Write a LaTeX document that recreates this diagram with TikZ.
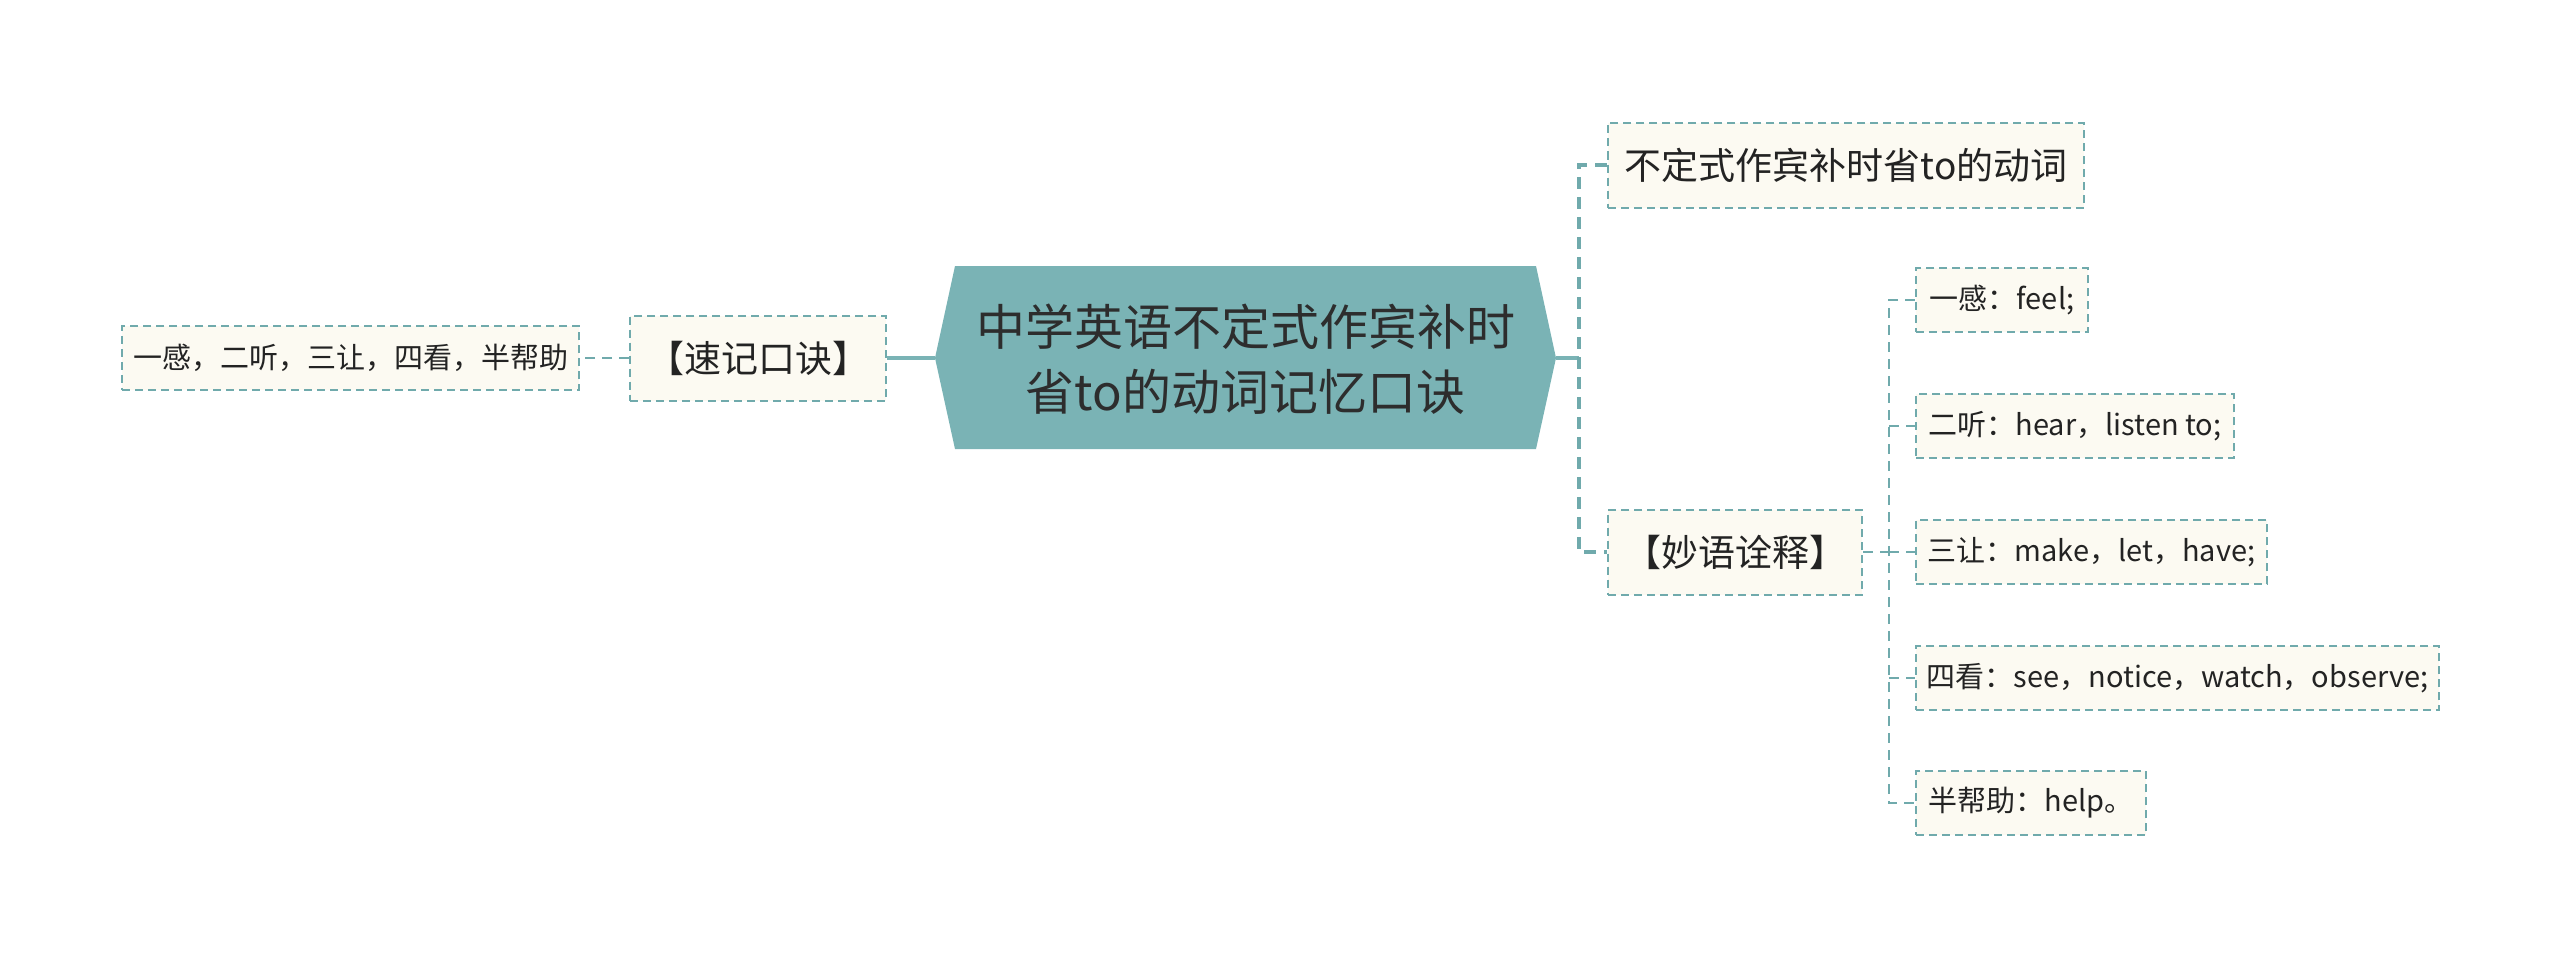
\documentclass[tikz,border=0pt]{standalone}
\usepackage{fontspec}
\setmainfont{Noto Sans CJK SC}
\definecolor{teal1}{RGB}{122,179,181}
\definecolor{lineC}{RGB}{112,170,172}
\definecolor{boxfill}{RGB}{252,250,242}
\definecolor{txt}{RGB}{35,35,35}
\definecolor{roottxt}{RGB}{45,45,45}
\tikzset{
 box/.style={draw=lineC, fill=boxfill, dash pattern=on 8pt off 5pt, line width=2pt, inner sep=0pt, anchor=west, text=txt},
 lvl1/.style={box, font=\fontsize{37}{44}\selectfont, minimum height=85pt},
 leaf/.style={box, font=\fontsize{29}{34}\selectfont, minimum height=64pt},
 link1/.style={draw=lineC, line width=4pt, dash pattern=on 12pt off 8pt},
 link2/.style={draw=lineC, line width=2pt, dash pattern=on 10pt off 7pt},
 solidlink/.style={draw=teal1, line width=4pt},
}
\begin{document}
\begin{tikzpicture}[x=1pt,y=-1pt]
\useasboundingbox (0,0) rectangle (2560,958);
% central topic
\fill[teal1] (935,358) -- (955,266) -- (1536,266) -- (1556,358) -- (1536,449) -- (955,449) -- cycle;
\node[font=\fontsize{49}{65}\selectfont, align=center, text=roottxt, inner sep=0pt] (root) at (1245.5,359) {中学英语不定式作宾补时\\省to的动词记忆口诀};
\coordinate (rootL) at (935,358);
\coordinate (rootR) at (1556,358);
% left branch
\node[lvl1, minimum width=256pt] (sj) at (629,358) {【速记口诀】};
\node[leaf, minimum width=457pt] (sjL) at (121,358) {一感，二听，三让，四看，半帮助};
% right branch
\node[lvl1, minimum width=476pt] (bd) at (1607,165) {不定式作宾补时省to的动词};
\node[lvl1, minimum width=254pt] (my) at (1607,552) {【妙语诠释】};
\node[leaf, minimum width=172pt] (l1) at (1915,300) {一感：feel;};
\node[leaf, minimum width=318pt] (l2) at (1915,426) {二听：hear，listen to;};
\node[leaf, minimum width=351pt] (l3) at (1915,552) {三让：make，let，have;};
\node[leaf, minimum width=523pt] (l4) at (1915,678) {四看：see，notice，watch，observe;};
\node[leaf, minimum width=230pt] (l5) at (1915,803) {半帮助：help。};
\coordinate (bx) at (1579,358);
\coordinate (lx) at (1889,552);
% connectors
\draw[solidlink] (rootL) -- (sj.east);
\draw[link2] (sj.west) -- (sjL.east);
\draw[solidlink] (rootR) -- (bx);
\draw[link1] (bd.west) -- (bd.west -| bx) -- (my.west -| bx) -- (my.west);
\draw[link2] (my.east) -- (lx);
\draw[link2] (l1.west) -- (l1.west -| lx) -- (l5.west -| lx) -- (l5.west);
\draw[link2] (l2.west -| lx) -- (l2.west);
\draw[link2] (l3.west -| lx) -- (l3.west);
\draw[link2] (l4.west -| lx) -- (l4.west);
\end{tikzpicture}
\end{document}
